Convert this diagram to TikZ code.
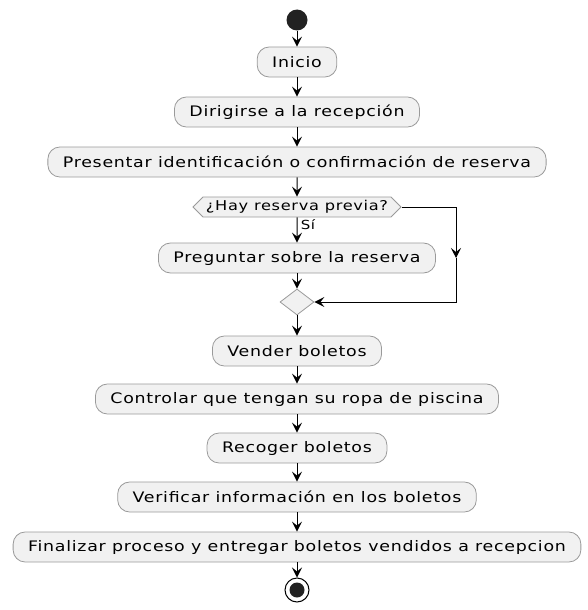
\documentclass[tikz,border=0pt]{standalone}
\usepackage{fontspec}
\setmainfont{DejaVu Sans}[FakeStretch=1.2,LetterSpace=5]
\usetikzlibrary{arrows.meta,shapes.geometric,shapes.symbols}

\definecolor{actfill}{HTML}{F1F1F1}
\definecolor{actline}{HTML}{9A9A9A}
\definecolor{dotfill}{HTML}{222222}

\tikzset{
  act/.style={draw=actline, fill=actfill, rounded corners=12pt, line width=0.8pt,
    minimum height=30pt, inner xsep=15pt, font=\fontsize{14.5}{16}\selectfont},
  choice/.style={draw=actline, fill=actfill, signal, signal to=west and east,
    line width=0.8pt, minimum height=20pt, inner xsep=3pt, inner ysep=1pt,
    font=\fontsize{13.5}{15}\selectfont},
  merge/.style={draw=actline, fill=actfill, diamond, line width=0.8pt,
    minimum width=34pt, minimum height=26pt, inner sep=0pt},
  arr/.style={draw=black, line width=1pt, -{Stealth[length=10pt,width=10pt,inset=4pt]}}
}

\begin{document}
\begin{tikzpicture}[x=1pt,y=-1pt]
\useasboundingbox (0,0) rectangle (588,610);
% start and end points
\node[circle, fill=dotfill, minimum size=21pt, inner sep=0pt] (start) at (297,20) {};
\node[circle, draw=black, line width=1pt, minimum size=24pt, inner sep=0pt] (stop) at (297,590) {};
\fill[dotfill] (stop.center) circle (7.5pt);

% activities
\node[act] (inicio) at (297,62) {Inicio};
\node[act] (dirigir) at (297,112) {Dirigirse a la recepción};
\node[act] (presentar) at (297,162) {Presentar identificación o confirmación de reserva};
\node[choice] (hay) at (297,207) {¿Hay reserva previa?};
\node[act] (preguntar) at (297,258) {Preguntar sobre la reserva};
\node[merge] (junta) at (297,302) {};
\node[act] (vender) at (297,351) {Vender boletos};
\node[act] (controlar) at (297,399) {Controlar que tengan su ropa de piscina};
\node[act] (recoger) at (297,448) {Recoger boletos};
\node[act] (verificar) at (297,497) {Verificar información en los boletos};
\node[act] (finalizar) at (297,547) {Finalizar proceso y entregar boletos vendidos a recepcion};

% flow
\draw[arr] (start) -- (inicio);
\draw[arr] (inicio) -- (dirigir);
\draw[arr] (dirigir) -- (presentar);
\draw[arr] (presentar) -- (hay);
\draw[arr] (hay) -- node[right, pos=0.3, font=\fontsize{12.5}{14}\selectfont] {Sí} (preguntar);
\draw[arr] (preguntar) -- (junta);
\coordinate (lado) at (456,258);
\draw[arr] (hay.east) -| (lado);
\draw[arr] (lado) |- (junta.east);
\draw[arr] (junta) -- (vender);
\draw[arr] (vender) -- (controlar);
\draw[arr] (controlar) -- (recoger);
\draw[arr] (recoger) -- (verificar);
\draw[arr] (verificar) -- (finalizar);
\draw[arr] (finalizar) -- (stop);
\end{tikzpicture}
\end{document}
